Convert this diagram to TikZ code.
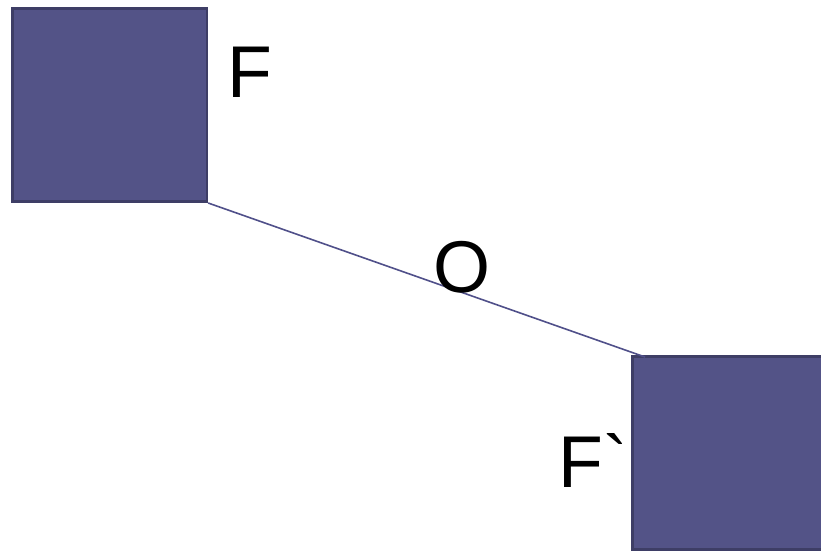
\documentclass[tikz,border=0pt]{standalone}
\usepackage{fontspec}
\font\labelfont="Liberation Sans" at 55pt
\definecolor{boxfill}{HTML}{535387}
\definecolor{boxline}{HTML}{3E3E66}
\definecolor{linecol}{HTML}{50508A}
\begin{document}
\begin{tikzpicture}[x=0.75pt, y=-0.75pt,
  block/.style={draw=boxline, line width=2pt, fill=boxfill, minimum width=146pt, minimum height=145pt, inner sep=0pt},
  lbl/.style={inner sep=0pt, anchor=base west, font=\labelfont}]
  \useasboundingbox (0,0) rectangle (821,550);

  \node[block] (F) at (109.5,105) {};
  \node[block] (Fp) at (729.5,453) {};
  \coordinate (end) at (645,357);

  \draw[linecol, line width=1.2pt] (F.south east) -- (end);

  \node[lbl] (fl) at (227,97) {F};
  \node[lbl] (ol) at (433,292) {O};
  \node[lbl] (fpl) at (558,487) {F`};
\end{tikzpicture}
\end{document}
